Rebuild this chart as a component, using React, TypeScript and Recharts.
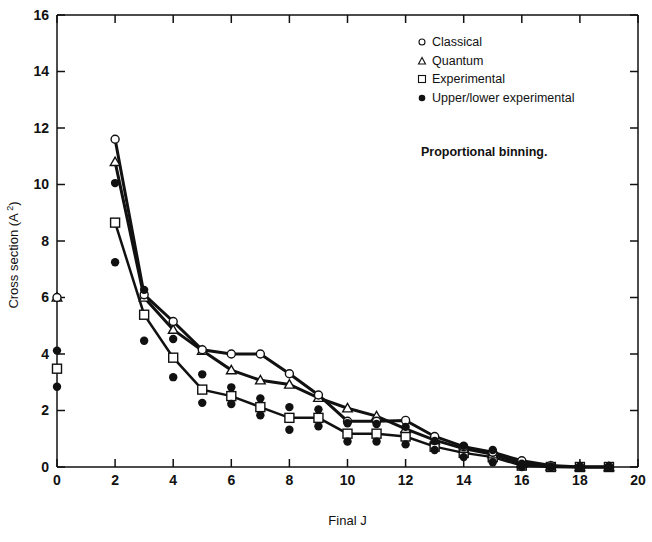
import React from 'react';
import { ComposedChart, Line, XAxis, YAxis } from 'recharts';

const finalJ = [0, 1, 2, 3, 4, 5, 6, 7, 8, 9, 10, 11, 12, 13, 14, 15, 16, 17, 18, 19];
const classical = [6.0, null, 11.6, 6.1, 5.15, 4.15, 4.0, 4.0, 3.3, 2.55, 1.62, 1.62, 1.65, 1.08, 0.72, 0.52, 0.22, 0.05, 0.0, 0.0];
const quantum = [6.0, null, 10.8, 6.0, 4.86, 4.12, 3.43, 3.07, 2.92, 2.45, 2.08, 1.8, 1.35, 0.95, 0.65, 0.45, 0.12, 0.02, 0.0, 0.0];
const experimental = [3.48, null, 8.65, 5.39, 3.87, 2.74, 2.51, 2.12, 1.74, 1.74, 1.18, 1.18, 1.08, 0.72, 0.5, 0.35, 0.05, 0.0, 0.0, 0.0];
const upperExp = [4.12, null, 10.05, 6.27, 4.53, 3.28, 2.82, 2.43, 2.12, 2.04, 1.55, 1.52, 1.42, 0.92, 0.75, 0.6, 0.12, 0.02, 0.0, 0.0];
const lowerExp = [2.84, null, 7.25, 4.47, 3.18, 2.27, 2.23, 1.83, 1.32, 1.44, 0.9, 0.9, 0.8, 0.6, 0.35, 0.17, 0.0, 0.0, 0.0, 0.0];

const xTicks = [0, 2, 4, 6, 8, 10, 12, 14, 16, 18, 20];
const yTicks = [0, 2, 4, 6, 8, 10, 12, 14, 16];
const legendLabels = ['Classical', 'Quantum', 'Experimental', 'Upper/lower experimental'];
const note = 'Proportional binning.';

const data = finalJ.map((j, i) => ({
  j,
  classical: classical[i],
  quantum: quantum[i],
  experimental: experimental[i],
  upper: upperExp[i],
  lower: lowerExp[i],
}));

const INK = '#111';
const FONT = '"Liberation Sans", Arial, Helvetica, sans-serif';

const mk = (kind: string) => (props: any) => {
  const { cx, cy, value, index } = props;
  const key = `${kind}-${index}`;
  if (cx == null || cy == null || value == null || Number.isNaN(cy)) return <g key={key} />;
  if (kind === 'circle') return <circle key={key} cx={cx} cy={cy} r={4} fill="#fff" stroke={INK} strokeWidth={1.4} />;
  if (kind === 'triangle') {
    const s = 4.8;
    return <polygon key={key} points={`${cx},${cy - s} ${cx - s},${cy + s * 0.75} ${cx + s},${cy + s * 0.75}`} fill="#fff" stroke={INK} strokeWidth={1.4} />;
  }
  if (kind === 'square') return <rect key={key} x={cx - 4.5} y={cy - 4.5} width={9} height={9} fill="#fff" stroke={INK} strokeWidth={1.4} />;
  return <circle key={key} cx={cx} cy={cy} r={4.2} fill={INK} stroke="none" />;
};

const YTitle = () => (
  <text x={18} y={255} transform="rotate(-90 18 255)" textAnchor="middle" fontFamily={FONT} fontSize={13} fill={INK}>
    Cross section (A<tspan dy={-5} fontSize={9}> 2</tspan><tspan dy={5}>)</tspan>
  </text>
);

const LegendIcon = ({ kind }: { kind: string }) => (
  <svg width={10} height={10} style={{ marginRight: 5, flex: 'none' }}>
    {kind === 'circle' && <circle cx={5} cy={5} r={3} fill="#fff" stroke={INK} strokeWidth={1.1} />}
    {kind === 'triangle' && <polygon points="5,1.5 1.5,8 8.5,8" fill="#fff" stroke={INK} strokeWidth={1.1} />}
    {kind === 'square' && <rect x={1.5} y={1.5} width={7} height={7} fill="#fff" stroke={INK} strokeWidth={1.1} />}
    {kind === 'dot' && <circle cx={5} cy={5} r={3.3} fill={INK} />}
  </svg>
);

const kinds = ['circle', 'triangle', 'square', 'dot'];
const tickStyle = { fontSize: 14, fill: INK, fontFamily: FONT, fontWeight: 'bold' as const };
const NoLabel = () => <g />;
const tickLineStyle = { stroke: INK, strokeWidth: 1.5 };

export default function App() {
  return (
    <div style={{ position: 'absolute', left: 0, top: 0, width: 652, height: 542, background: '#fff' }}>
      <ComposedChart width={652} height={542} data={data} margin={{ top: 15, right: 14, bottom: 15, left: 0 }}>
        <XAxis
          xAxisId="main"
          dataKey="j"
          type="number"
          domain={[0, 20]}
          ticks={xTicks}
          tickLine={false}
          axisLine={{ stroke: INK, strokeWidth: 1.5 }}
          height={60}
          tick={tickStyle}
          label={{ value: 'Final J', position: 'insideBottom', offset: 2, fontSize: 13, fill: INK, fontFamily: FONT }}
        />
        <XAxis xAxisId="bottomIn" dataKey="j" type="number" domain={[0, 20]} ticks={xTicks} orientation="bottom" mirror tick={NoLabel} tickSize={8} axisLine={false} tickLine={tickLineStyle} />
        <XAxis xAxisId="topIn" dataKey="j" type="number" domain={[0, 20]} ticks={xTicks} orientation="top" mirror tick={NoLabel} tickSize={8} axisLine={tickLineStyle} tickLine={tickLineStyle} />
        <YAxis
          yAxisId="main"
          type="number"
          domain={[0, 16]}
          ticks={yTicks}
          width={57}
          tickLine={false}
          axisLine={{ stroke: INK, strokeWidth: 1.5 }}
          tick={tickStyle}
          label={{ content: () => <YTitle /> }}
        />
        <YAxis yAxisId="leftIn" type="number" domain={[0, 16]} ticks={yTicks} orientation="left" mirror tick={NoLabel} tickSize={8} axisLine={false} tickLine={tickLineStyle} />
        <YAxis yAxisId="rightIn" type="number" domain={[0, 16]} ticks={yTicks} orientation="right" mirror tick={NoLabel} tickSize={8} axisLine={tickLineStyle} tickLine={tickLineStyle} />

        <Line xAxisId="bottomIn" yAxisId="leftIn" dataKey="experimental" stroke="none" dot={false} activeDot={false} legendType="none" isAnimationActive={false} />
        <Line xAxisId="topIn" yAxisId="rightIn" dataKey="experimental" stroke="none" dot={false} activeDot={false} legendType="none" isAnimationActive={false} />

        <Line xAxisId="main" yAxisId="main" dataKey="experimental" stroke={INK} strokeWidth={2.5} dot={mk('square')} isAnimationActive={false} />
        <Line xAxisId="main" yAxisId="main" dataKey="quantum" stroke={INK} strokeWidth={3} dot={mk('triangle')} isAnimationActive={false} />
        <Line xAxisId="main" yAxisId="main" dataKey="classical" stroke={INK} strokeWidth={3} dot={mk('circle')} isAnimationActive={false} />
        <Line xAxisId="main" yAxisId="main" dataKey="upper" stroke="none" dot={mk('dot')} activeDot={false} isAnimationActive={false} />
        <Line xAxisId="main" yAxisId="main" dataKey="lower" stroke="none" dot={mk('dot')} activeDot={false} isAnimationActive={false} />
      </ComposedChart>

      <div style={{ position: 'absolute', left: 417, top: 33, fontFamily: FONT, fontSize: 12.5, color: INK, lineHeight: '18.5px' }}>
        {legendLabels.map((l, i) => (
          <div key={l} style={{ display: 'flex', alignItems: 'center', height: 18.5 }}>
            <LegendIcon kind={kinds[i]} />
            <span>{l}</span>
          </div>
        ))}
      </div>
      <div style={{ position: 'absolute', left: 421, top: 145, fontFamily: FONT, fontSize: 12.5, fontWeight: 'bold', color: INK }}>
        {note}
      </div>
    </div>
  );
}
